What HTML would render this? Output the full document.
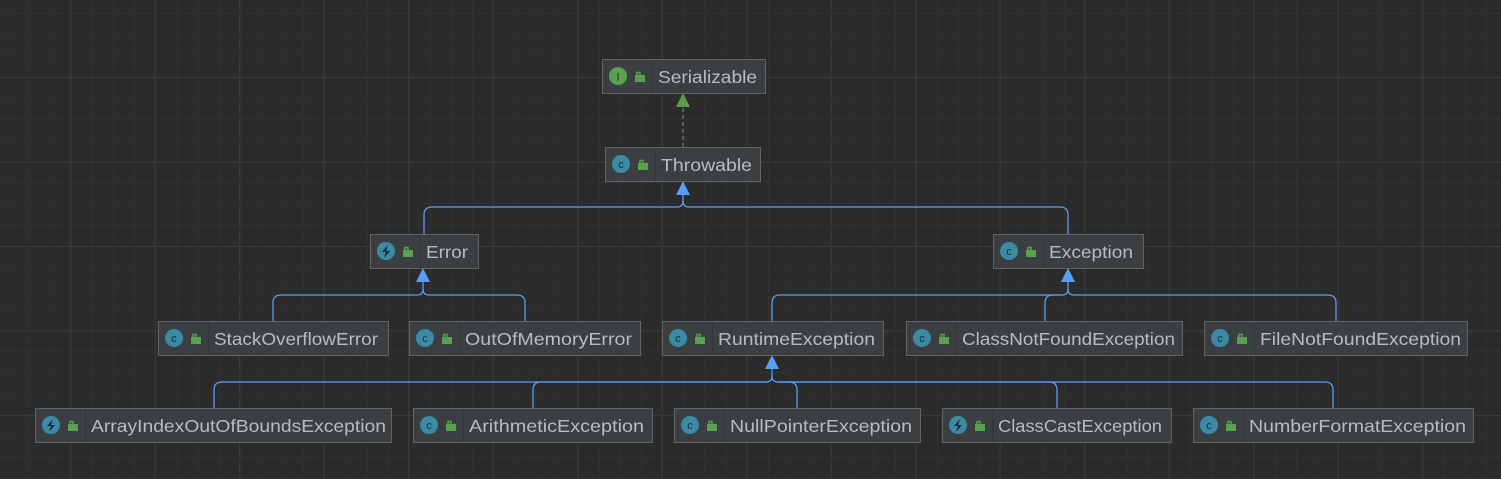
<!DOCTYPE html>
<html><head><meta charset="utf-8"><style>
html,body{margin:0;padding:0;background:#2b2b2b;}
svg{display:block}
text{font-family:"Liberation Sans",sans-serif;}
</style></head><body>
<svg width="1501" height="479" xmlns="http://www.w3.org/2000/svg">
<defs>
<pattern id="minor" x="7.5" y="13" width="21.125" height="21.125" patternUnits="userSpaceOnUse">
<path d="M0.5 0V21.125M0 0.5H21.125" stroke="#313131" stroke-width="1" fill="none"/>
</pattern>
<pattern id="major" x="70" y="77" width="84.5" height="84.5" patternUnits="userSpaceOnUse">
<path d="M0.5 0V84.5M0 0.5H84.5" stroke="#393939" stroke-width="1.2" fill="none"/>
</pattern>
<g id="lock"><rect x="0" y="4" width="10" height="7" fill="#59a14f"/><path d="M2 4V1.5h3V4" stroke="#59a14f" stroke-width="1.5" fill="none"/></g>
</defs>
<rect width="1501" height="479" fill="#2b2b2b"/>
<rect width="1501" height="479" fill="url(#minor)"/>
<rect width="1501" height="479" fill="url(#major)"/>

<!-- dashed realization -->
<line x1="683" y1="147" x2="683" y2="107" stroke="#5e8f4f" stroke-width="1.2" stroke-dasharray="4,3"/>
<polygon points="683,93 676,107 690,107" fill="#5e9d4f"/>

<g stroke="#589df6" stroke-width="1.3" fill="none">
<!-- Throwable group -->
<path d="M424 234V215Q424 207 432 207H677Q683 207 683 201V195"/>
<path d="M1068 234V215Q1068 207 1060 207H689Q683 207 683 201"/>
<!-- Error group -->
<path d="M273 321V303Q273 295 281 295H417Q423 295 423 289V282"/>
<path d="M525 321V303Q525 295 517 295H429Q423 295 423 289"/>
<!-- Exception group -->
<path d="M772 321V303Q772 295 780 295H1062Q1068 295 1068 289V282"/>
<path d="M1045 321V303Q1045 295 1053 295H1062"/>
<path d="M1336 321V303Q1336 295 1328 295H1074Q1068 295 1068 289"/>
<!-- Runtime group -->
<path d="M214 408V390Q214 382 222 382H766Q772 382 772 376V369"/>
<path d="M533 408V390Q533 382 541 382H766"/>
<path d="M797 408V390Q797 382 789 382H778Q772 382 772 376"/>
<path d="M1057 408V390Q1057 382 1049 382H778"/>
<path d="M1333 408V390Q1333 382 1325 382H778"/>
</g>
<g fill="#589df6">
<polygon points="683,181 676,195 690,195"/>
<polygon points="423,268 416,282 430,282"/>
<polygon points="1068,268 1061,282 1075,282"/>
<polygon points="772,355 765,369 779,369"/>
</g>

<g font-size="17.5" fill="#b9bcbf">
<!-- box template inline -->
<g transform="translate(602,59)"><rect x="0.5" y="0.5" width="163" height="34" fill="#3c3f41" stroke="#646464"/><line x1="50.5" y1="1" x2="50.5" y2="34" stroke="#333537"/><circle cx="16" cy="17" r="9" fill="#59a14f"/><text x="16" y="21.5" font-size="11" fill="#2b2b2b" text-anchor="middle" font-family="Liberation Serif">I</text><use href="#lock" x="33" y="12"/><text x="56" y="24" textLength="99" lengthAdjust="spacingAndGlyphs">Serializable</text></g>

<g transform="translate(605,147)"><rect x="0.5" y="0.5" width="155" height="34" fill="#3c3f41" stroke="#646464"/><line x1="50.5" y1="1" x2="50.5" y2="34" stroke="#333537"/><circle cx="16" cy="17" r="9" fill="#3b8ba6"/><text x="16" y="21" font-size="11" fill="#1e2a30" text-anchor="middle">c</text><use href="#lock" x="33" y="12"/><text x="56" y="24" textLength="91" lengthAdjust="spacingAndGlyphs">Throwable</text></g>

<g transform="translate(370,234)"><rect x="0.5" y="0.5" width="108" height="34" fill="#3c3f41" stroke="#646464"/><line x1="50.5" y1="1" x2="50.5" y2="34" stroke="#333537"/><circle cx="16" cy="17" r="9" fill="#3b8ba6"/><path d="M18 11L12 18h4l-2 6 6-7h-4z" fill="#1e2a30"/><use href="#lock" x="33" y="12"/><text x="56" y="24" textLength="42" lengthAdjust="spacingAndGlyphs">Error</text></g>

<g transform="translate(993,234)"><rect x="0.5" y="0.5" width="150" height="34" fill="#3c3f41" stroke="#646464"/><line x1="50.5" y1="1" x2="50.5" y2="34" stroke="#333537"/><circle cx="16" cy="17" r="9" fill="#3b8ba6"/><text x="16" y="21" font-size="11" fill="#1e2a30" text-anchor="middle">c</text><use href="#lock" x="33" y="12"/><text x="56" y="24" textLength="84" lengthAdjust="spacingAndGlyphs">Exception</text></g>

<g transform="translate(158,321)"><rect x="0.5" y="0.5" width="230" height="34" fill="#3c3f41" stroke="#646464"/><line x1="50.5" y1="1" x2="50.5" y2="34" stroke="#333537"/><circle cx="16" cy="17" r="9" fill="#3b8ba6"/><text x="16" y="21" font-size="11" fill="#1e2a30" text-anchor="middle">c</text><use href="#lock" x="33" y="12"/><text x="56" y="24" textLength="164" lengthAdjust="spacingAndGlyphs">StackOverflowError</text></g>

<g transform="translate(409,321)"><rect x="0.5" y="0.5" width="231" height="34" fill="#3c3f41" stroke="#646464"/><line x1="50.5" y1="1" x2="50.5" y2="34" stroke="#333537"/><circle cx="16" cy="17" r="9" fill="#3b8ba6"/><text x="16" y="21" font-size="11" fill="#1e2a30" text-anchor="middle">c</text><use href="#lock" x="33" y="12"/><text x="56" y="24" textLength="167" lengthAdjust="spacingAndGlyphs">OutOfMemoryError</text></g>

<g transform="translate(662,321)"><rect x="0.5" y="0.5" width="221" height="34" fill="#3c3f41" stroke="#646464"/><line x1="50.5" y1="1" x2="50.5" y2="34" stroke="#333537"/><circle cx="16" cy="17" r="9" fill="#3b8ba6"/><text x="16" y="21" font-size="11" fill="#1e2a30" text-anchor="middle">c</text><use href="#lock" x="33" y="12"/><text x="56" y="24" textLength="157" lengthAdjust="spacingAndGlyphs">RuntimeException</text></g>

<g transform="translate(906,321)"><rect x="0.5" y="0.5" width="276" height="34" fill="#3c3f41" stroke="#646464"/><line x1="50.5" y1="1" x2="50.5" y2="34" stroke="#333537"/><circle cx="16" cy="17" r="9" fill="#3b8ba6"/><text x="16" y="21" font-size="11" fill="#1e2a30" text-anchor="middle">c</text><use href="#lock" x="33" y="12"/><text x="56" y="24" textLength="213" lengthAdjust="spacingAndGlyphs">ClassNotFoundException</text></g>

<g transform="translate(1204,321)"><rect x="0.5" y="0.5" width="263" height="34" fill="#3c3f41" stroke="#646464"/><line x1="50.5" y1="1" x2="50.5" y2="34" stroke="#333537"/><circle cx="16" cy="17" r="9" fill="#3b8ba6"/><text x="16" y="21" font-size="11" fill="#1e2a30" text-anchor="middle">c</text><use href="#lock" x="33" y="12"/><text x="56" y="24" textLength="201" lengthAdjust="spacingAndGlyphs">FileNotFoundException</text></g>

<g transform="translate(35,408)"><rect x="0.5" y="0.5" width="356" height="34" fill="#3c3f41" stroke="#646464"/><line x1="50.5" y1="1" x2="50.5" y2="34" stroke="#333537"/><circle cx="16" cy="17" r="9" fill="#3b8ba6"/><path d="M18 11L12 18h4l-2 6 6-7h-4z" fill="#1e2a30"/><use href="#lock" x="33" y="12"/><text x="56" y="24" textLength="295" lengthAdjust="spacingAndGlyphs">ArrayIndexOutOfBoundsException</text></g>

<g transform="translate(413,408)"><rect x="0.5" y="0.5" width="239" height="34" fill="#3c3f41" stroke="#646464"/><line x1="50.5" y1="1" x2="50.5" y2="34" stroke="#333537"/><circle cx="16" cy="17" r="9" fill="#3b8ba6"/><text x="16" y="21" font-size="11" fill="#1e2a30" text-anchor="middle">c</text><use href="#lock" x="33" y="12"/><text x="56" y="24" textLength="175" lengthAdjust="spacingAndGlyphs">ArithmeticException</text></g>

<g transform="translate(674,408)"><rect x="0.5" y="0.5" width="246" height="34" fill="#3c3f41" stroke="#646464"/><line x1="50.5" y1="1" x2="50.5" y2="34" stroke="#333537"/><circle cx="16" cy="17" r="9" fill="#3b8ba6"/><text x="16" y="21" font-size="11" fill="#1e2a30" text-anchor="middle">c</text><use href="#lock" x="33" y="12"/><text x="56" y="24" textLength="182" lengthAdjust="spacingAndGlyphs">NullPointerException</text></g>

<g transform="translate(942,408)"><rect x="0.5" y="0.5" width="229" height="34" fill="#3c3f41" stroke="#646464"/><line x1="50.5" y1="1" x2="50.5" y2="34" stroke="#333537"/><circle cx="16" cy="17" r="9" fill="#3b8ba6"/><path d="M18 11L12 18h4l-2 6 6-7h-4z" fill="#1e2a30"/><use href="#lock" x="33" y="12"/><text x="56" y="24" textLength="164" lengthAdjust="spacingAndGlyphs">ClassCastException</text></g>

<g transform="translate(1193,408)"><rect x="0.5" y="0.5" width="280" height="34" fill="#3c3f41" stroke="#646464"/><line x1="50.5" y1="1" x2="50.5" y2="34" stroke="#333537"/><circle cx="16" cy="17" r="9" fill="#3b8ba6"/><text x="16" y="21" font-size="11" fill="#1e2a30" text-anchor="middle">c</text><use href="#lock" x="33" y="12"/><text x="56" y="24" textLength="217" lengthAdjust="spacingAndGlyphs">NumberFormatException</text></g>
</g>
</svg>
</body></html>
